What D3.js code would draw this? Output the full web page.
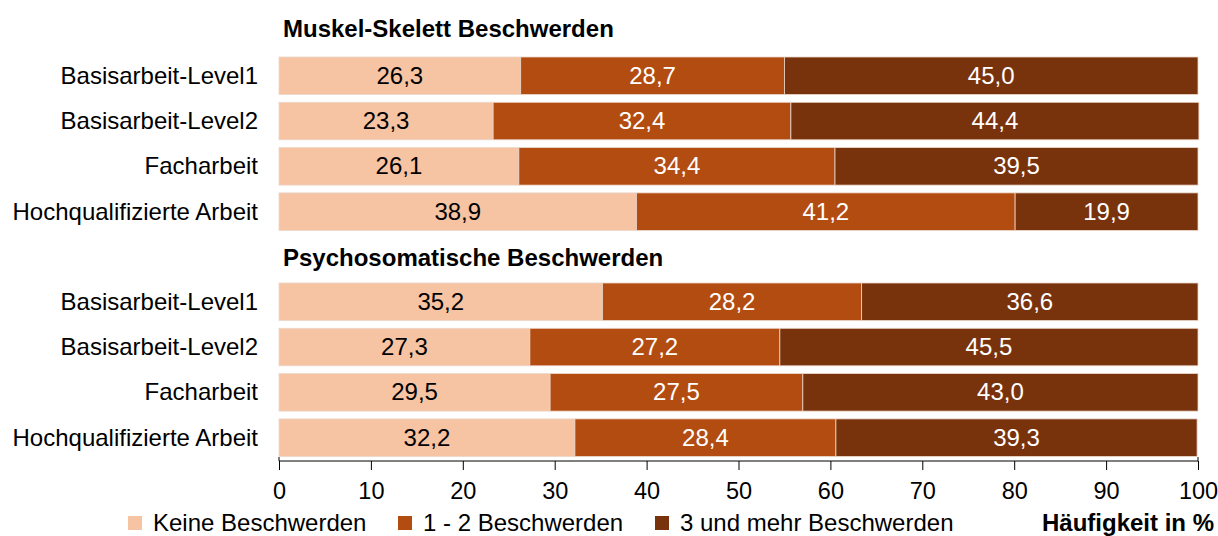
<!DOCTYPE html>
<html><head><meta charset="utf-8">
<script src="https://cdn.jsdelivr.net/npm/d3@7"></script>
<style>body{margin:0;background:#fff;} text{font-family:"Liberation Sans",Arial,sans-serif;}</style>
</head><body><svg id="c" width="1218" height="536"></svg>
<script>
const categories = ["Basisarbeit-Level1","Basisarbeit-Level2","Facharbeit","Hochqualifizierte Arbeit"];
const groups = ["Muskel-Skelett Beschwerden","Psychosomatische Beschwerden"];
const seriesNames = ["Keine Beschwerden","1 - 2 Beschwerden","3 und mehr Beschwerden"];
const muskelKeine = [26.3,23.3,26.1,38.9];
const muskel12 = [28.7,32.4,34.4,41.2];
const muskel3 = [45.0,44.4,39.5,19.9];
const psychoKeine = [35.2,27.3,29.5,32.2];
const psycho12 = [28.2,27.2,27.5,28.4];
const psycho3 = [36.6,45.5,43.0,39.3];
const xTicks = [0,10,20,30,40,50,60,70,80,90,100];
const colors = ["#F6C3A3","#B34C11","#78330D"];
const textColors = ["#000","#fff","#fff"];

const svg = d3.select("#c");
const x = d3.scaleLinear().domain([0,100]).range([279,1198]);
const rows = [];
const gdata = [[muskelKeine,muskel12,muskel3],[psychoKeine,psycho12,psycho3]];
groups.forEach((g,gi)=>categories.forEach((c,ci)=>rows.push({g:gi,ci:ci,cat:c,vals:gdata[gi].map(s=>s[ci])})));
const yRow = d3.scaleLinear().domain([0,1]).range([0,45.3]);
const groupTop = [57,283];
const bh = 37.5;
const fmt = v => d3.format(".1f")(v).replace(".",",");
const FS = 24;

groups.forEach((g,gi)=>{
  svg.append("text").attr("x",283).attr("y",gi===0?37:266).attr("font-size",FS).attr("font-weight","bold").text(g);
});

rows.forEach(r=>{
  let acc=0;
  const yy=groupTop[r.g]+yRow(r.ci);
  svg.append("text").attr("x",258).attr("y",yy+bh/2+8).attr("text-anchor","end").attr("font-size",FS).text(r.cat);
  r.vals.forEach((v,si)=>{
    const x0=x(acc), x1=x(acc+v);
    svg.append("rect").attr("x",x0).attr("y",yy).attr("width",x1-x0).attr("height",bh)
      .attr("fill",colors[si]).attr("stroke","#ecd6c8").attr("stroke-width",0.8);
    svg.append("text").attr("x",(x0+x1)/2).attr("y",yy+bh/2+8).attr("text-anchor","middle")
      .attr("font-size",FS).attr("fill",textColors[si]).text(fmt(v));
    acc+=v;
  });
});

const axis = d3.axisBottom(x).tickValues(xTicks).tickSize(9).tickPadding(12).tickFormat(d=>d);
const ag = svg.append("g").attr("transform","translate(0,461)").call(axis);
ag.select(".domain").attr("stroke","#000").attr("d","M279,-4V0H1198V-4");
ag.selectAll(".tick line").attr("stroke","#000");
ag.selectAll("text").attr("font-size",23.5).attr("font-family","Liberation Sans, Arial, sans-serif").attr("fill","#000");

const legX=[128,398,655];
seriesNames.forEach((s,i)=>{
  svg.append("rect").attr("x",legX[i]).attr("y",516).attr("width",14).attr("height",14).attr("fill",colors[i]);
  svg.append("text").attr("x",legX[i]+25).attr("y",531).attr("font-size",FS).text(s);
});
svg.append("text").attr("x",1214).attr("y",531).attr("text-anchor","end").attr("font-size",FS).attr("font-weight","bold").text("Häufigkeit in %");
</script></body></html>
